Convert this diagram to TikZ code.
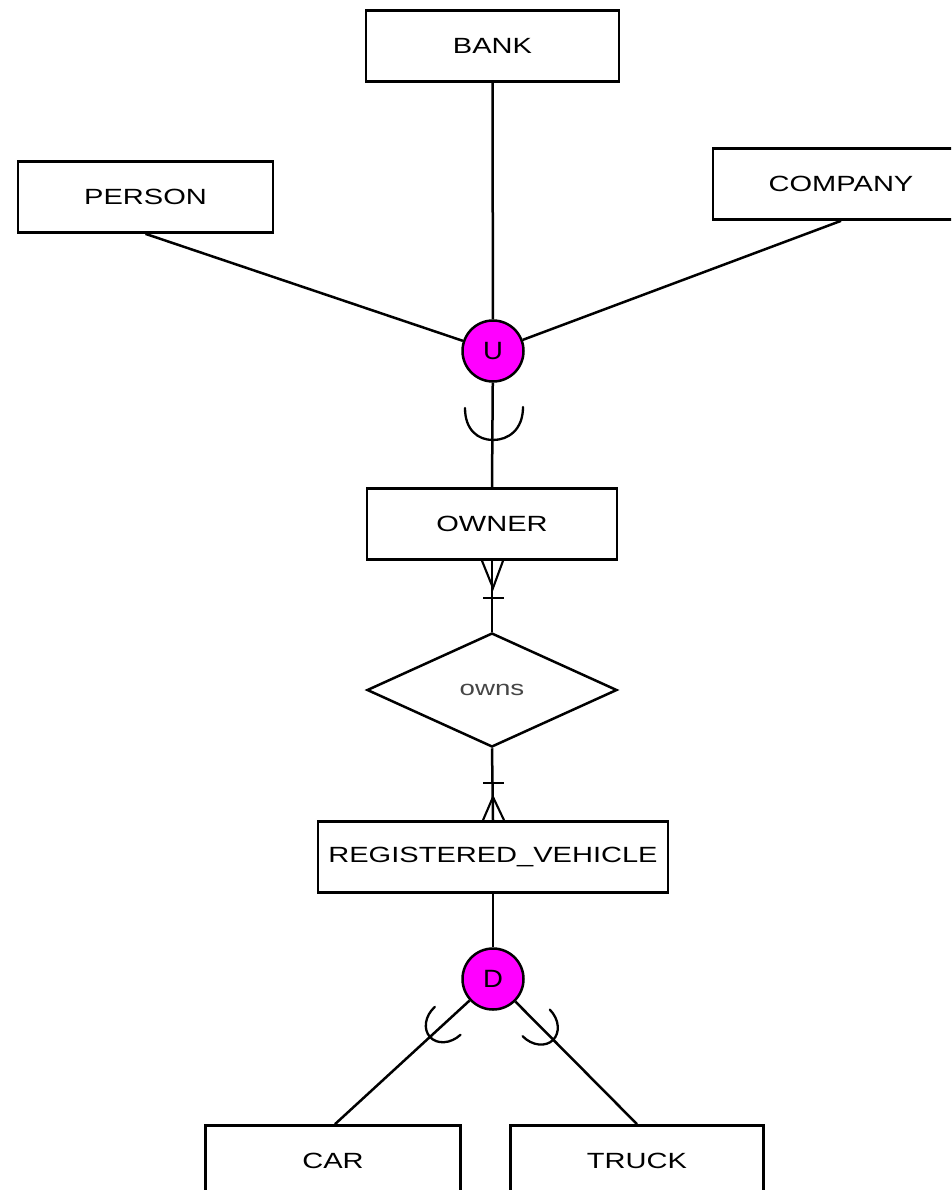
\documentclass[tikz,border=0pt]{standalone}
\usepackage{fontspec}
\newfontfamily\erfont[FakeStretch=1.32]{Liberation Sans}
\newfontfamily\opfont[FakeStretch=1.1]{Liberation Sans}
\usetikzlibrary{shapes.geometric}
\definecolor{magentacirc}{RGB}{255,0,255}
\definecolor{ownsgray}{RGB}{70,70,70}
\begin{document}
\begin{tikzpicture}[x=1pt,y=-1pt,line width=2.5pt,
  entity/.style={draw, rectangle, line width=2.7pt, minimum width=#1, minimum height=71pt, inner sep=0pt,
    font=\erfont\fontsize{22}{24}\selectfont},
  relship/.style={draw, diamond, line width=2.5pt, minimum width=250pt, minimum height=114pt, inner sep=0pt,
    font=\erfont\fontsize{21}{24}\selectfont, text=ownsgray},
  opcircle/.style={draw, circle, fill=magentacirc, line width=2.5pt, minimum size=61pt, inner sep=0pt,
    font=\opfont\fontsize{25}{26}\selectfont},
  thin/.style={line width=2.1pt},
  cup/.style={line width=2.3pt, line cap=round}]
\useasboundingbox (0,0) rectangle (951,1190);
\clip (0,0) rectangle (951,1190);
\fill[white] (0,0) rectangle (951,1190);

% entities
\node[entity=253pt] (bank) at (492.5,46) {BANK};
\node[entity=255pt] (person) at (145.5,197) {PERSON};
\node[entity=256pt] (company) at (841,184) {COMPANY};
\node[entity=250pt] (owner) at (492,524) {OWNER};
\node[relship] (owns) at (492,690) {owns};
\node[entity=350pt] (rv) at (493,857) {REGISTERED\_VEHICLE};
\node[entity=255pt] (car) at (333,1161) {CAR};
\node[entity=253pt] (truck) at (637,1161) {TRUCK};

% category / specialization circles
\node[opcircle] (u) at (493,351) {U};
\node[opcircle] (d) at (493,979) {D};

% connectors to union
\draw (person.south) -- (u);
\draw (bank.south) -- (u);
\draw (company.south) -- (u);
\draw (u) -- (owner.north);

% subset symbol on union -> OWNER
\draw[cup] (465,408) .. controls (465,430) and (478,440) .. (493,440)
  .. controls (508,440) and (523,430) .. (523,407);

% OWNER -- owns
\draw (owner.south) -- (owns.north);
\coordinate (cfa) at (493,588);
\draw[thin] ([xshift=-10pt]owner.south) -- (cfa) -- ([xshift=11pt]owner.south);
\draw[thin] (483,598) -- (504,598);

% owns -- REGISTERED_VEHICLE
\draw (owns.south) -- (rv.north);
\coordinate (cfb) at (493,797);
\draw[thin] (483,783) -- (504,783);
\draw[thin] ([xshift=-10pt]rv.north) -- (cfb) -- ([xshift=11pt]rv.north);

% disjoint specialization
\draw (rv.south) -- (d);
\draw (d) -- ([xshift=2pt]car.north);
\draw (d) -- (truck.north);

% subset symbols on specialization lines
\draw[cup] (460.5,1034.8) .. controls (450.2,1044.2) and (436.8,1044.4) .. (430,1037)
  .. controls (423.2,1029.6) and (424.5,1016.2) .. (434.9,1006.8);
\draw[cup] (549.8,1009.6) .. controls (559.6,1019.6) and (560.1,1033) .. (553,1040)
  .. controls (545.9,1047) and (532.4,1046.2) .. (522.6,1036.2);
\end{tikzpicture}
\end{document}
